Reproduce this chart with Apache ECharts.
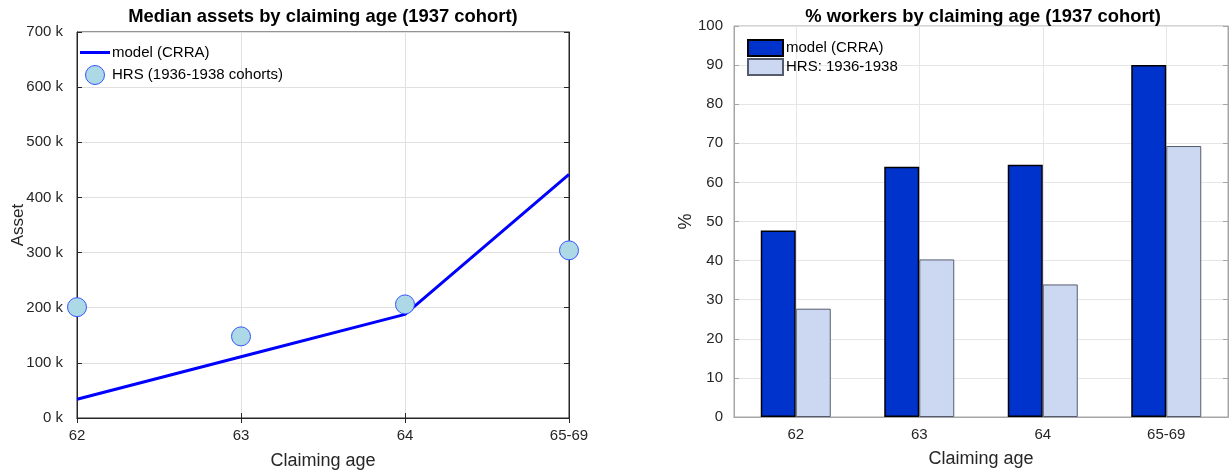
<!DOCTYPE html>
<html>
<head>
<meta charset="utf-8">
<script src="https://cdn.jsdelivr.net/npm/echarts@6/dist/echarts.min.js"></script>
<style>
html,body{margin:0;padding:0;background:#fff;}
#chart{width:1231px;height:471px;}
</style>
</head>
<body>
<div id="chart"></div>
<script>
// ---- data ----
const ageCategories = ['62', '63', '64', '65-69'];
const assetModel = [34, 111, 188, 442];          // thousands
const assetHRS = [201, 148, 206, 304];           // thousands
const pctModel = [47.7, 64.0, 64.5, 90.0];
const pctHRS = [27.7, 40.3, 33.9, 69.3];
const assetTicks = [0, 700, 100];                // min, max, step (k)
const pctTicks = [0, 100, 10];

const FONT = '"Liberation Sans", Arial, Helvetica, sans-serif';
const TXT = '#262626';

const chart = echarts.init(document.getElementById('chart'), null, {renderer: 'canvas'});

function axisLbl(extra) {
  return Object.assign({color: TXT, fontSize: 15, fontFamily: FONT}, extra || {});
}

const option = {
  animation: false,
  backgroundColor: '#fff',
  title: [
    {text: 'Median assets by claiming age (1937 cohort)', left: 318, top: 3, textAlign: 'center',
     textStyle: {fontFamily: FONT, fontSize: 18.4, fontWeight: 'bold', color: '#000'}},
    {text: '% workers by claiming age (1937 cohort)', left: 978, top: 3, textAlign: 'center',
     textStyle: {fontFamily: FONT, fontSize: 18.4, fontWeight: 'bold', color: '#000'}}
  ],
  legend: [
    {left: 80, top: 43, padding: 0, orient: 'vertical', itemGap: 3, itemWidth: 30, itemHeight: 19,
     textStyle: {fontFamily: FONT, fontSize: 15, color: '#000', padding: [0, 0, 0, -3]},
     selectedMode: false,
     data: [
       {name: 'model (CRRA)', icon: 'path://M0,0 L0.01,0 L0.01,19 L0,19 Z M0,8 L30,8 L30,11 L0,11 Z',
        itemStyle: {color: '#0000ff', borderWidth: 0}},
       {name: 'HRS (1936-1938 cohorts)', icon: 'circle', itemStyle: {color: '#add8e6', borderColor: '#3355ff', borderWidth: 1}}
     ]},
    {left: 747, top: 39, padding: 0, orient: 'vertical', itemGap: 1, itemWidth: 35, itemHeight: 16,
     textStyle: {fontFamily: FONT, fontSize: 15, lineHeight: 16, color: '#000', padding: [0, 0, 0, -2]},
     selectedMode: false,
     data: [
       {name: 'model (CRRA) ', icon: 'rect'},
       {name: 'HRS: 1936-1938', icon: 'rect'}
     ]}
  ],
  grid: [
    {left: 77, top: 32, width: 492, height: 386, outerBoundsMode: 'none', containLabel: false,
     show: true, borderColor: '#262626', borderWidth: 1, backgroundColor: 'transparent'},
    {left: 734, top: 26, width: 494, height: 391, outerBoundsMode: 'none', containLabel: false,
     show: true, borderColor: '#a6a6a6', borderWidth: 1, backgroundColor: 'transparent'}
  ],
  xAxis: [
    {gridIndex: 0, type: 'category', data: ageCategories, boundaryGap: false,
     name: 'Claiming age', nameLocation: 'middle', nameGap: 34,
     nameTextStyle: {fontFamily: FONT, fontSize: 18, color: TXT},
     axisLine: {lineStyle: {color: '#262626'}},
     axisTick: {inside: true, length: 5, lineStyle: {color: '#262626'}},
     axisLabel: axisLbl({margin: 10}),
     splitLine: {show: true, lineStyle: {color: '#e0e0e0'}}},
    {gridIndex: 0, type: 'category', data: ageCategories, boundaryGap: false, position: 'top',
     axisLine: {lineStyle: {color: '#262626'}},
     axisTick: {inside: true, length: 5, lineStyle: {color: '#262626'}},
     axisLabel: {show: false}, splitLine: {show: false}},
    {gridIndex: 1, type: 'category', data: ageCategories, boundaryGap: true,
     name: 'Claiming age', nameLocation: 'middle', nameGap: 33,
     nameTextStyle: {fontFamily: FONT, fontSize: 18, color: TXT},
     axisLine: {lineStyle: {color: '#a6a6a6'}},
     axisTick: {inside: true, length: 5, alignWithLabel: true, lineStyle: {color: '#a6a6a6'}},
     axisLabel: axisLbl({margin: 10}),
     splitLine: {show: true, alignWithLabel: true, lineStyle: {color: '#e6e6e6'}}},
    {gridIndex: 1, type: 'category', data: ageCategories, boundaryGap: true, position: 'top',
     axisLine: {lineStyle: {color: '#a6a6a6'}},
     axisTick: {inside: true, length: 5, alignWithLabel: true, lineStyle: {color: '#a6a6a6'}},
     axisLabel: {show: false}, splitLine: {show: false}}
  ],
  yAxis: [
    {gridIndex: 0, type: 'value', min: assetTicks[0], max: assetTicks[1], interval: assetTicks[2],
     name: 'Asset', nameLocation: 'middle', nameGap: 50, nameRotate: 90, nameMoveOverlap: false,
     nameTextStyle: {fontFamily: FONT, fontSize: 17, color: TXT},
     axisLine: {show: true, lineStyle: {color: '#262626'}},
     axisTick: {show: true, inside: true, length: 5, lineStyle: {color: '#262626'}},
     axisLabel: axisLbl({formatter: '{value} k', margin: 14}),
     splitLine: {show: true, lineStyle: {color: '#e0e0e0'}}},
    {gridIndex: 0, type: 'value', min: assetTicks[0], max: assetTicks[1], interval: assetTicks[2], position: 'right',
     axisLine: {show: true, lineStyle: {color: '#262626'}},
     axisTick: {show: true, inside: true, length: 5, lineStyle: {color: '#262626'}},
     axisLabel: {show: false}, splitLine: {show: false}},
    {gridIndex: 1, type: 'value', min: pctTicks[0], max: pctTicks[1], interval: pctTicks[2],
     name: '%', nameLocation: 'middle', nameGap: 39, nameRotate: 90, nameMoveOverlap: false,
     nameTextStyle: {fontFamily: FONT, fontSize: 18, color: TXT},
     axisLine: {show: true, lineStyle: {color: '#a6a6a6'}},
     axisTick: {show: true, inside: true, length: 5, lineStyle: {color: '#a6a6a6'}},
     axisLabel: axisLbl({margin: 11}),
     splitLine: {show: true, lineStyle: {color: '#e6e6e6'}}},
    {gridIndex: 1, type: 'value', min: pctTicks[0], max: pctTicks[1], interval: pctTicks[2], position: 'right',
     axisLine: {show: true, lineStyle: {color: '#a6a6a6'}},
     axisTick: {show: true, inside: true, length: 5, lineStyle: {color: '#a6a6a6'}},
     axisLabel: {show: false}, splitLine: {show: false}}
  ],
  series: [
    {name: 'model (CRRA)', type: 'line', xAxisIndex: 0, yAxisIndex: 0, data: assetModel,
     symbol: 'none', lineStyle: {color: '#0000ff', width: 3}, itemStyle: {color: '#0000ff'}, z: 3},
    {name: 'HRS (1936-1938 cohorts)', type: 'scatter', xAxisIndex: 0, yAxisIndex: 0, data: assetHRS,
     symbolSize: 19, clip: false,
     itemStyle: {color: '#add8e6', borderColor: '#3355ff', borderWidth: 1, opacity: 1}, z: 4},
    {name: 'model (CRRA) ', type: 'bar', xAxisIndex: 2, yAxisIndex: 2, data: pctModel,
     barWidth: 35, barGap: '0%',
     itemStyle: {color: '#0033cc', borderColor: '#000', borderWidth: 1.5}},
    {name: 'HRS: 1936-1938', type: 'bar', xAxisIndex: 2, yAxisIndex: 2, data: pctHRS,
     barWidth: 35, barGap: '0%',
     itemStyle: {color: '#ccd8f2', borderColor: '#555c6e', borderWidth: 1}}
  ]
};
chart.setOption(option);
</script>
</body>
</html>
